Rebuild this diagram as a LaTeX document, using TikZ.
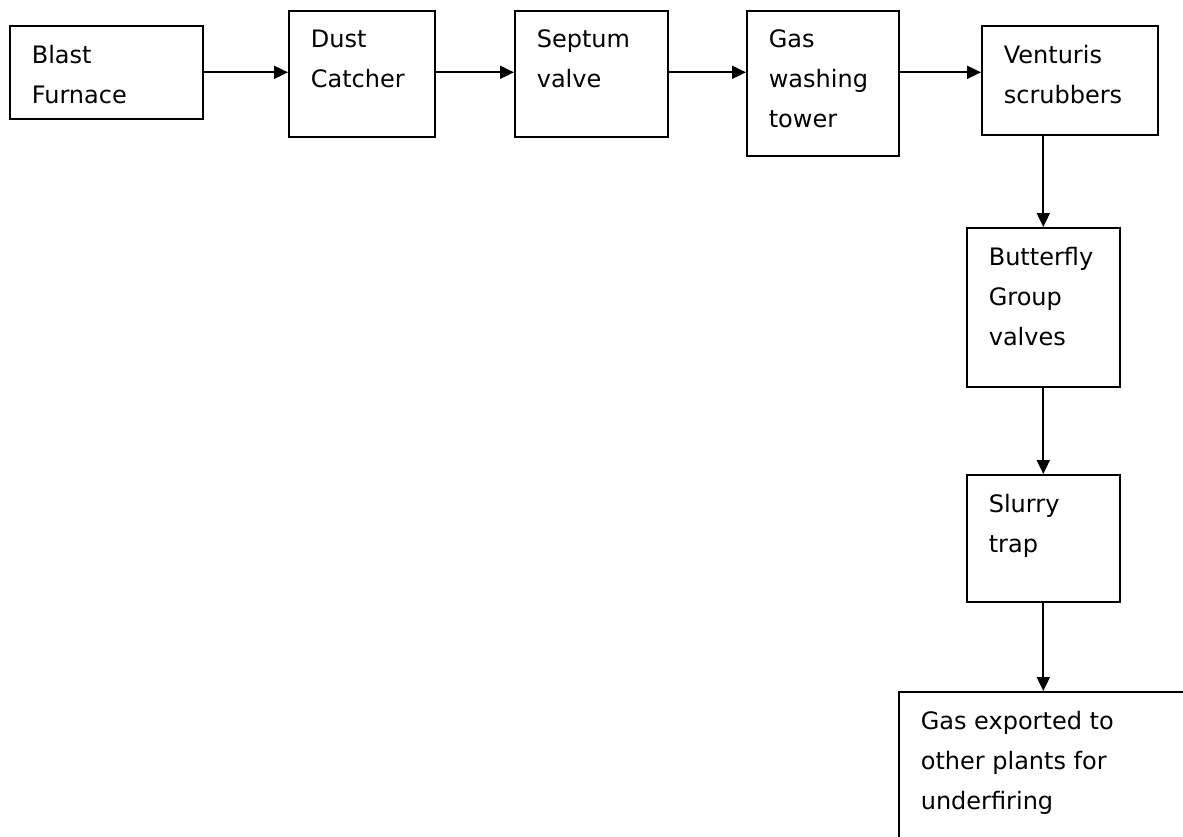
\documentclass[tikz,border=0pt]{standalone}
\usepackage{fontspec}
\setmainfont{DejaVu Sans}
\usetikzlibrary{arrows.meta,positioning,calc}
\newcommand{\stagelines}[3]{\parbox[t][#2pt][t]{#1pt}{\vspace*{19pt}#3}}

\begin{document}
\begin{tikzpicture}
[x=1pt,y=-1pt,
every node/.style={text=black,font=\fontsize{24}{40}\selectfont},
stage/.style={draw,line width=1.6pt,anchor=north west,inner xsep=22pt,inner ysep=0pt},
flow/.style={line width=1.8pt,-{Triangle[length=14pt,width=13pt]}}]

\clip (0,0) rectangle (1183,836);

\node[stage] (blast) at (9,25) {\stagelines{149}{93}{Blast\\Furnace}};
\node[stage] (dust) at (288,10) {\stagelines{102}{126}{Dust\\Catcher}};
\node[stage] (septum) at (514,10) {\stagelines{109}{126}{Septum\\valve}};
\node[stage] (tower) at (746,10) {\stagelines{108}{145}{Gas\\washing\\tower}};
\node[stage] (venturi) at (981,25) {\stagelines{132}{109}{Venturis\\scrubbers}};
\node[stage] (butterfly) at (966,227) {\stagelines{109}{159}{Butterfly\\Group\\valves}};
\node[stage] (slurry) at (966,474) {\stagelines{109}{127}{Slurry\\trap}};
\node[stage] (export) at (898,691) {\stagelines{276}{200}{Gas exported to\\other plants for\\underfiring}};

%% main line
\draw[flow] (blast.east) -- (blast.east -| dust.west);
\draw[flow] (dust.east |- blast.east) -- (septum.west |- blast.east);
\draw[flow] (septum.east |- blast.east) -- (tower.west |- blast.east);
\draw[flow] (tower.east |- blast.east) -- (venturi.west |- blast.east);
%% down to export
\draw[flow] (venturi.south -| butterfly) -- (butterfly.north);
\draw[flow] (butterfly.south) -- (slurry.north);
\draw[flow] (slurry.south) -- (slurry.south |- export.north);

\end{tikzpicture}
\end{document}
